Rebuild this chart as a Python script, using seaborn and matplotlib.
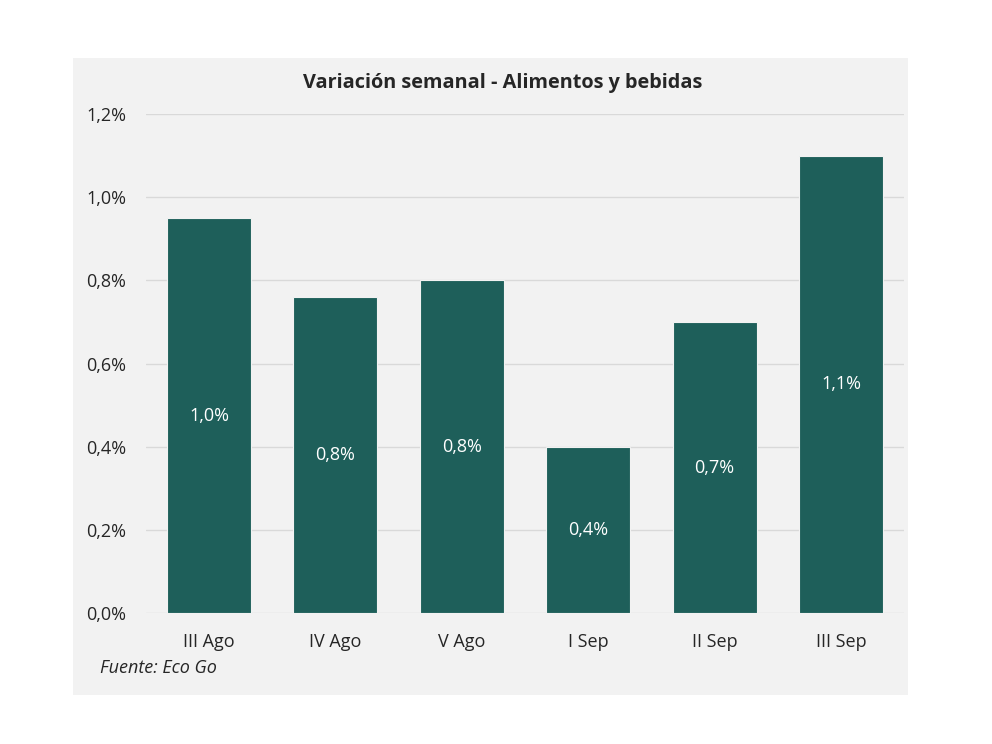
import matplotlib
matplotlib.use("Agg")
import matplotlib.pyplot as plt
import seaborn as sns
import pandas as pd
from matplotlib.patches import Rectangle
from matplotlib.ticker import FuncFormatter

categories = ["III Ago", "IV Ago", "V Ago", "I Sep", "II Sep", "III Sep"]
values = [0.95, 0.76, 0.80, 0.40, 0.70, 1.10]
labels = ["1,0%", "0,8%", "0,8%", "0,4%", "0,7%", "1,1%"]
yticks = [0.0, 0.2, 0.4, 0.6, 0.8, 1.0, 1.2]

sns.set_theme(style="white")
plt.rcParams["font.family"] = ["Open Sans", "DejaVu Sans"]

df = pd.DataFrame({"cat": categories, "val": values})

fig = plt.figure(figsize=(9.92, 7.44), dpi=100)
fig.patch.set_facecolor("white")
panel = Rectangle((73 / 992, 1 - 695 / 744), (908 - 73) / 992, (695 - 58) / 744,
                  transform=fig.transFigure, facecolor="#f2f2f2", edgecolor="none", zorder=0)
fig.patches.append(panel)

ax = fig.add_axes([0.147, 0.176, 0.7645, 0.6707])
ax.set_zorder(2)
ax.set_facecolor("none")
sns.barplot(data=df, x="cat", y="val", color="#1e5f5a", saturation=1, width=0.665, ax=ax,
            edgecolor="#f2f2f2", linewidth=0.8, zorder=3)

ax.set_ylim(0, 1.2)
ax.set_xlim(-0.5, 5.5)
ax.set_yticks(yticks)
ax.yaxis.set_major_formatter(FuncFormatter(lambda v, p: f"{v:.1f}%".replace(".", ",")))
ax.grid(axis="y", color="#d9d9d9", linewidth=1, zorder=0)
ax.grid(axis="x", visible=False)
ax.set_axisbelow(True)
for s in ax.spines.values():
    s.set_visible(False)
ax.tick_params(axis="y", length=0, pad=14, labelsize=13, labelcolor="#262626")
ax.tick_params(axis="x", length=0, pad=14, labelsize=13, labelcolor="#262626")
ax.set_xlabel("")
ax.set_ylabel("")

for i, (v, lab) in enumerate(zip(values, labels)):
    ax.text(i, v / 2, lab, ha="center", va="center", color="white", fontsize=13, zorder=4)

fig.text(0.507, 1 - 83 / 744, "Variación semanal - Alimentos y bebidas", ha="center", va="center",
         fontsize=14.3, fontweight="bold", color="#262626")
fig.text(100 / 992, 1 - 668 / 744, "Fuente: Eco Go", ha="left", va="center",
         fontsize=13, style="italic", color="#262626")

fig.savefig("out.png", dpi=100, facecolor="white")
